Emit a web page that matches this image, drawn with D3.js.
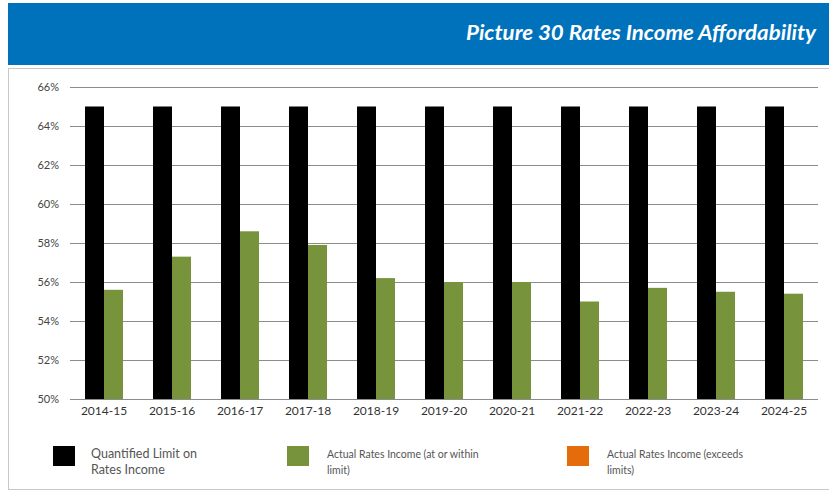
<!DOCTYPE html>
<html>
<head>
<meta charset="utf-8">
<script src="https://cdn.jsdelivr.net/npm/d3@7"></script>
<style>
  body { margin: 0; background: #fff; }
  svg text { font-family: Lato, "Open Sans", sans-serif; }
</style>
</head>
<body>
<div id="app"></div>
<script>
const years = ['2014-15', '2015-16', '2016-17', '2017-18', '2018-19', '2019-20',
    '2020-21', '2021-22', '2022-23', '2023-24', '2024-25'];
const limitValues = [65, 65, 65, 65, 65, 65, 65, 65, 65, 65, 65];
const actualValues = [55.6, 57.3, 58.6, 57.9, 56.2, 56.0, 56.0, 55.0, 55.7, 55.5, 55.4];
const yTicks = [50, 52, 54, 56, 58, 60, 62, 64, 66];
const seriesNames = ['limit', 'actual'];
const legendItems = [
    { label: ['Quantified Limit on', 'Rates Income'], color: '#000000' },
    { label: ['Actual Rates Income (at or within', 'limit)'], color: '#77933c' },
    { label: ['Actual Rates Income (exceeds', 'limits)'], color: '#e46c0a' }
];

const draw = () => {
    const width = 829;
    const height = 495;

    const svg = d3.select('#app')
        .append('svg')
        .attr('width', width)
        .attr('height', height);

    // banner
    svg.append('rect')
        .attr('x', 8).attr('y', 3)
        .attr('width', width - 8).attr('height', 62)
        .attr('fill', '#0072bc');

    svg.append('text')
        .attr('x', 816).attr('y', 40)
        .attr('text-anchor', 'end')
        .attr('fill', '#fff')
        .attr('font-size', '21px')
        .attr('font-weight', 'bold')
        .attr('font-style', 'italic')
        .attr('textLength', 350)
        .attr('lengthAdjust', 'spacingAndGlyphs')
        .text('Picture 30 Rates Income Affordability');

    // panel frame
    svg.append('rect')
        .attr('x', 8.5).attr('y', 68.5)
        .attr('width', width).attr('height', 421)
        .attr('fill', 'none')
        .attr('stroke', '#c8c8c8');

    const x0 = d3.scaleBand()
        .domain(years)
        .range([70, 818]);

    const x1 = d3.scaleBand()
        .domain(seriesNames)
        .range([0, x0.bandwidth()])
        .paddingOuter(0.79);

    const y = d3.scaleLinear()
        .domain([50, 66])
        .range([399, 87]);

    // gridlines
    svg.append('g')
        .selectAll('line')
        .data(yTicks)
        .enter()
        .append('line')
        .attr('x1', 70).attr('x2', 818)
        .attr('y1', d => Math.round(y(d)) + 0.5)
        .attr('y2', d => Math.round(y(d)) + 0.5)
        .attr('stroke', '#8c8c8c')
        .attr('stroke-width', 1);

    svg.append('g')
        .selectAll('text')
        .data(yTicks)
        .enter()
        .append('text')
        .attr('x', 59)
        .attr('y', d => y(d))
        .attr('dy', '0.35em')
        .attr('text-anchor', 'end')
        .attr('font-size', '11px')
        .attr('fill', '#444')
        .text(d => d + '%');

    const rows = years.map((yr, i) => ({ year: yr, limit: limitValues[i], actual: actualValues[i] }));
    const colors = { limit: '#000000', actual: '#77933c' };

    const groups = svg.append('g')
        .selectAll('g')
        .data(rows)
        .enter()
        .append('g')
        .attr('transform', d => 'translate(' + x0(d.year) + ',0)');

    groups.selectAll('rect')
        .data(d => seriesNames.map(k => ({ key: k, value: d[k] })))
        .enter()
        .append('rect')
        .attr('x', d => x1(d.key))
        .attr('width', x1.bandwidth())
        .attr('y', d => y(d.value))
        .attr('height', d => y(50) - y(d.value))
        .attr('fill', d => colors[d.key]);

    svg.append('g')
        .selectAll('text')
        .data(years)
        .enter()
        .append('text')
        .attr('x', d => x0(d) + x0.bandwidth() / 2)
        .attr('y', 411)
        .attr('dy', '0.35em')
        .attr('text-anchor', 'middle')
        .attr('font-size', '12px')
        .attr('fill', '#333')
        .text(d => d);

    // legend
    const legendX = [53, 287, 567];
    const legend = svg.append('g')
        .selectAll('g')
        .data(legendItems)
        .enter()
        .append('g')
        .attr('transform', (d, i) => 'translate(' + legendX[i] + ',446)');

    legend.append('rect')
        .attr('width', 22)
        .attr('height', 20)
        .attr('fill', d => d.color);

    legend.append('text')
        .attr('x', (d, i) => i === 0 ? 38 : 40)
        .attr('font-size', (d, i) => i === 0 ? '12.5px' : '10.5px')
        .attr('fill', '#555')
        .selectAll('tspan')
        .data(d => d.label)
        .enter()
        .append('tspan')
        .attr('x', function () { return d3.select(this.parentNode).attr('x'); })
        .attr('y', (d, i) => 12 + i * 16)
        .text(d => d);
};

draw();
</script>
</body>
</html>
